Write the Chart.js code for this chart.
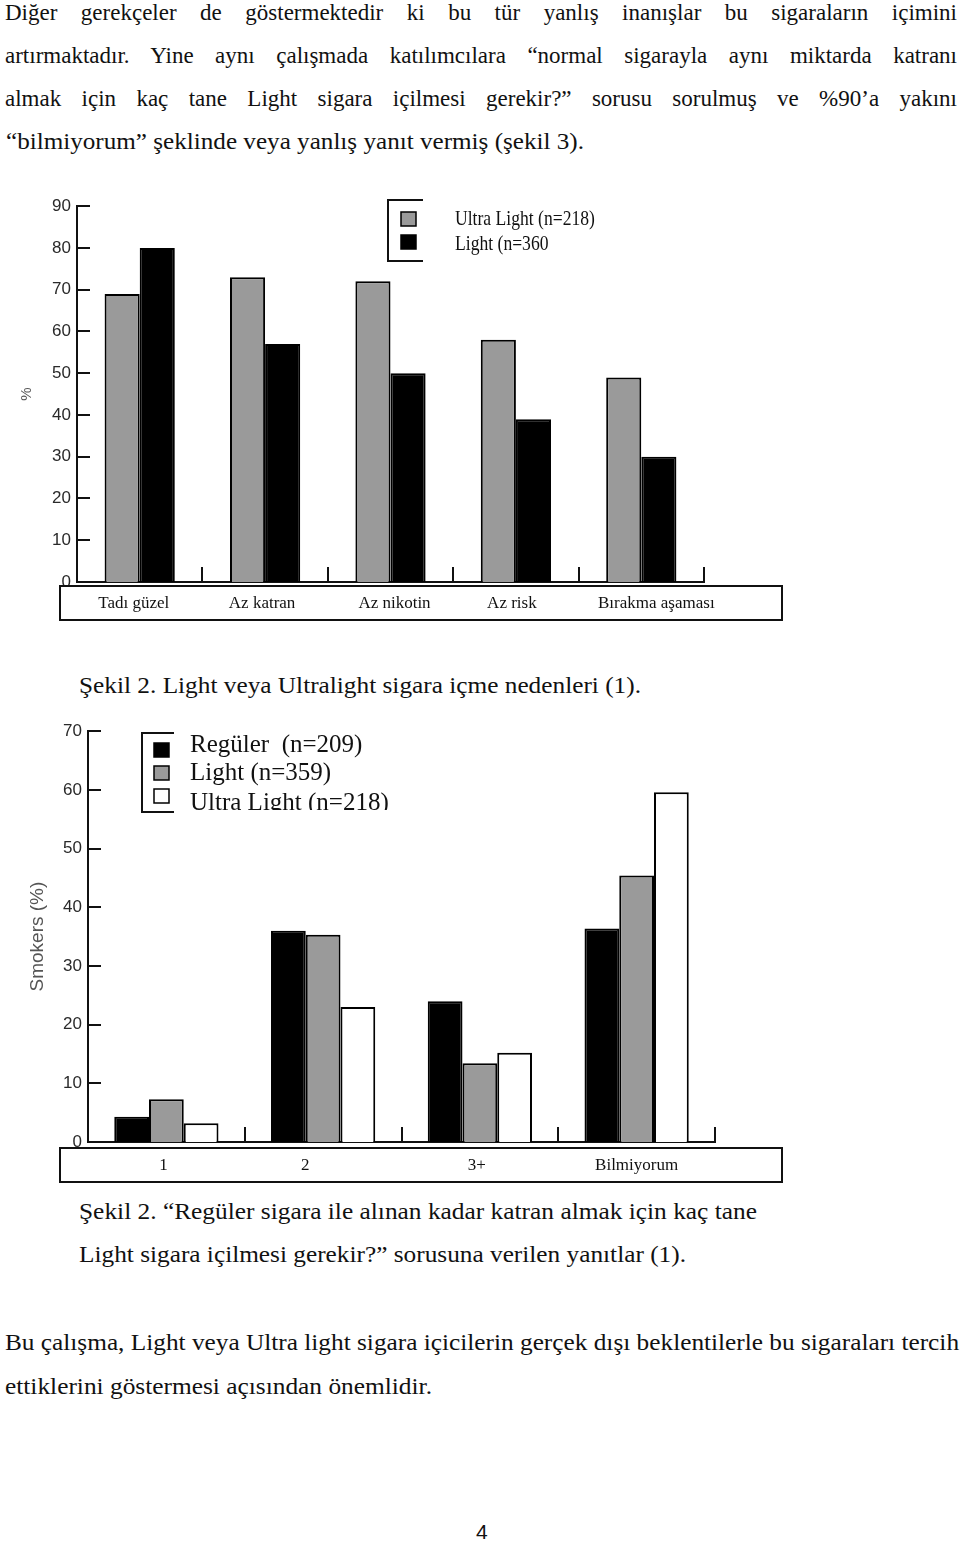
<!DOCTYPE html>
<html lang="tr">
<head>
<meta charset="utf-8">
<title>Şekil 2</title>
<script src="https://cdn.jsdelivr.net/npm/chart.js@4.4.0/dist/chart.umd.min.js"></script>
<style>
  html, body { margin: 0; padding: 0; background: #fff; }
  body { position: relative; width: 960px; height: 1543px; overflow: hidden;
         font-family: "Liberation Serif", "Times New Roman", serif; color: #111; }
  .ln { position: absolute; white-space: nowrap; font-size: 23px; line-height: 23px; transform-origin: 0 50%; }
  .just { text-align: justify; text-align-last: justify; }
  .pg { font-family: "Liberation Sans", Arial, sans-serif; font-size: 21px; }
  canvas { position: absolute; left: 0; }
</style>
</head>
<body>
<div id="text"></div>
<canvas id="reasonsChart" width="790" height="440" style="top:190px"></canvas>
<canvas id="countChart" width="790" height="475" style="top:715px"></canvas>
<script>
// Şekil 2 (üst): Light / Ultra Light içme nedenleri, %
const reasonLabels = ['Tadı güzel', 'Az katran', 'Az nikotin', 'Az risk', 'Bırakma aşaması'];
const ultraLightReasons = [69, 73, 72, 58, 49];
const lightReasons = [80, 57, 50, 39, 30];
const reasonLegend = ['Ultra Light (n=218)', 'Light (n=360'];

// Şekil 2 (alt): kaç tane Light sigara gerekir?
const countLabels = ['1', '2', '3+', 'Bilmiyorum'];
const regularCounts = [4.3, 36, 24, 36.4];
const lightCounts = [7.3, 35.3, 13.4, 45.4];
const ultraLightCounts = [3.2, 23, 15.2, 59.6];
const countLegend = ['Regüler  (n=209)', 'Light (n=359)', 'Ultra Light (n=218)'];

// page text, one entry per printed line
const lines = [
  { t: 'Diğer gerekçeler de göstermektedir ki bu tür yanlış inanışlar bu sigaraların içimini', x: 5, y: 12, w: 952, j: true },
  { t: 'artırmaktadır. Yine aynı çalışmada katılımcılara “normal sigarayla aynı miktarda katranı', x: 5, y: 55, w: 952, j: true },
  { t: 'almak için kaç tane Light sigara içilmesi gerekir?” sorusu sorulmuş ve %90’a yakını', x: 5, y: 98, w: 952, j: true },
  { t: '“bilmiyorum” şeklinde veya yanlış yanıt vermiş (şekil 3).', x: 6, y: 141, w: 578 },
  { t: 'Şekil 2. Light veya Ultralight sigara içme nedenleri (1).', x: 79, y: 685, w: 562 },
  { t: 'Şekil 2. “Regüler sigara ile alınan kadar katran almak için kaç tane', x: 79, y: 1211, w: 678 },
  { t: 'Light sigara içilmesi gerekir?” sorusuna verilen yanıtlar (1).', x: 79, y: 1254, w: 607 },
  { t: 'Bu çalışma, Light veya Ultra light sigara içicilerin gerçek dışı beklentilerle bu sigaraları tercih', x: 5, y: 1342, w: 954 },
  { t: 'ettiklerini göstermesi açısından önemlidir.', x: 5, y: 1386, w: 427 }
];

const textBox = document.getElementById('text');
lines.forEach(l => {
  const d = document.createElement('div');
  d.className = 'ln' + (l.j ? ' just' : '');
  d.textContent = l.t;
  d.style.left = l.x + 'px';
  d.style.top = (l.y - 11.5) + 'px';
  textBox.appendChild(d);
  if (l.j) {
    d.style.width = l.w + 'px';
  } else {
    const nat = d.getBoundingClientRect().width;
    d.style.transform = 'scaleX(' + (l.w / nat).toFixed(4) + ')';
  }
});
const pg = document.createElement('div');
pg.className = 'ln pg';
pg.textContent = '4';
pg.style.left = '476px';
pg.style.top = '1520px';
textBox.appendChild(pg);

// draws the label strip, inner ticks, category dividers and the bracket legend
const paperPlugin = {
  id: 'paper',
  beforeDatasetsDraw(chart, args, o) {
    const ctx = chart.ctx;
    const xs = chart.scales.x, ys = chart.scales.y;
    const [bx, by, bw, bh] = o.strip;
    ctx.save();
    ctx.fillStyle = '#fff';
    ctx.fillRect(bx, by, bw, bh);
    ctx.strokeStyle = '#111';
    ctx.lineWidth = 2;
    ctx.strokeRect(bx, by, bw, bh);

    // ticks pointing into the plot
    ys.ticks.forEach(t => {
      const py = Math.round(ys.getPixelForValue(t.value));
      ctx.beginPath();
      ctx.moveTo(xs.left, py);
      ctx.lineTo(xs.left + 13, py);
      ctx.stroke();
    });

    // short dividers between categories
    const step = xs.getPixelForValue(1) - xs.getPixelForValue(0);
    chart.data.labels.forEach((lab, i) => {
      const px = Math.round(xs.getPixelForValue(i) + step / 2);
      ctx.beginPath();
      ctx.moveTo(px, xs.top + 1);
      ctx.lineTo(px, xs.top - 15);
      ctx.stroke();
    });

    // category names inside the strip, bottom cut off like the scan
    ctx.save();
    ctx.beginPath();
    ctx.rect(bx, by, bw, bh - 8);
    ctx.clip();
    ctx.fillStyle = '#111';
    ctx.font = '17px "Liberation Serif"';
    ctx.textAlign = 'center';
    ctx.textBaseline = 'middle';
    chart.data.labels.forEach((lab, i) => {
      ctx.fillText(lab, xs.getPixelForValue(i) + (o.labelShift ? o.labelShift[i] : 0), by + bh / 2 + 1);
    });
    ctx.restore();

    // legend with the open bracket
    const lg = o.legend;
    ctx.beginPath();
    ctx.moveTo(lg.x + lg.arm, lg.top);
    ctx.lineTo(lg.x, lg.top);
    ctx.lineTo(lg.x, lg.bottom);
    ctx.lineTo(lg.x + lg.arm, lg.bottom);
    ctx.stroke();
    ctx.save();
    ctx.beginPath();
    ctx.rect(0, 0, chart.width, lg.clip);
    ctx.clip();
    chart.data.datasets.forEach((ds, i) => {
      const cy = lg.boxes[i];
      ctx.fillStyle = ds.backgroundColor;
      ctx.fillRect(lg.sx, cy - 7, 15, 14);
      ctx.lineWidth = 1.5;
      ctx.strokeStyle = '#000';
      ctx.strokeRect(lg.sx, cy - 7, 15, 14);
      ctx.fillStyle = '#111';
      ctx.font = lg.font;
      ctx.textAlign = 'left';
      ctx.textBaseline = 'middle';
      ctx.save();
      ctx.translate(lg.tx, lg.rows[i]);
      ctx.scale(lg.squeeze, 1);
      ctx.fillText(ds.label, 0, 1);
      ctx.restore();
    });
    ctx.restore();
    ctx.restore();
  }
};

function paperChart(id, labels, datasets, max, padRight, padTop, yWidth, xHeight, title, titlePad, titleSize, catPct, paper) {
  return new Chart(document.getElementById(id).getContext('2d'), {
    type: 'bar',
    data: { labels: labels, datasets: datasets },
    options: {
      responsive: false,
      animation: false,
      events: [],
      layout: { padding: { left: 0, right: padRight, top: padTop, bottom: 0 } },
      datasets: { bar: { categoryPercentage: catPct, barPercentage: 1, borderColor: '#000', borderWidth: 2, borderSkipped: 'start' } },
      plugins: { legend: { display: false }, tooltip: { enabled: false }, paper: paper },
      scales: {
        x: {
          grid: { display: false },
          border: { display: true, color: '#111', width: 2 },
          ticks: { display: false },
          afterFit: s => { s.height = xHeight; }
        },
        y: {
          min: 0, max: max,
          grid: { display: false, drawTicks: false },
          border: { display: true, color: '#111', width: 2 },
          ticks: { stepSize: 10, padding: 6, color: '#2a2a2a', font: { family: 'Liberation Sans', size: 17 } },
          title: { display: true, text: title, color: '#555', padding: { top: titlePad, bottom: 0 },
                   font: { family: 'Liberation Sans', size: titleSize } },
          afterFit: s => { s.width = yWidth; }
        }
      }
    },
    plugins: [paperPlugin]
  });
}

paperChart('reasonsChart', reasonLabels, [
  { label: reasonLegend[0], data: ultraLightReasons, backgroundColor: '#9a9a9a' },
  { label: reasonLegend[1], data: lightReasons, backgroundColor: '#000' }
], 90, 86, 15, 77, 48, '%', 18, 15, 0.56, {
  strip: [60, 396, 722, 34],
  labelShift: [-6, -3, 4, -4, 15],
  legend: { x: 388, top: 10, bottom: 71, arm: 35, sx: 401, boxes: [29, 52], rows: [28, 53], tx: 455, clip: 440,
            font: '22px "Liberation Serif"', squeeze: 0.8 }
});

paperChart('countChart', countLabels, [
  { label: countLegend[0], data: regularCounts, backgroundColor: '#000' },
  { label: countLegend[1], data: lightCounts, backgroundColor: '#9a9a9a' },
  { label: countLegend[2], data: ultraLightCounts, backgroundColor: '#fff' }
], 70, 75, 13, 88, 48, 'Smokers (%)', 26, 19, 0.665, {
  strip: [60, 433, 722, 34],
  labelShift: [-3, -18, -3, 0],
  legend: { x: 142, top: 18, bottom: 97, arm: 32, sx: 154, boxes: [35, 58, 81], rows: [29, 57, 87], tx: 190, clip: 95,
            font: '25px "Liberation Serif"', squeeze: 1 }
});
</script>
</body>
</html>
